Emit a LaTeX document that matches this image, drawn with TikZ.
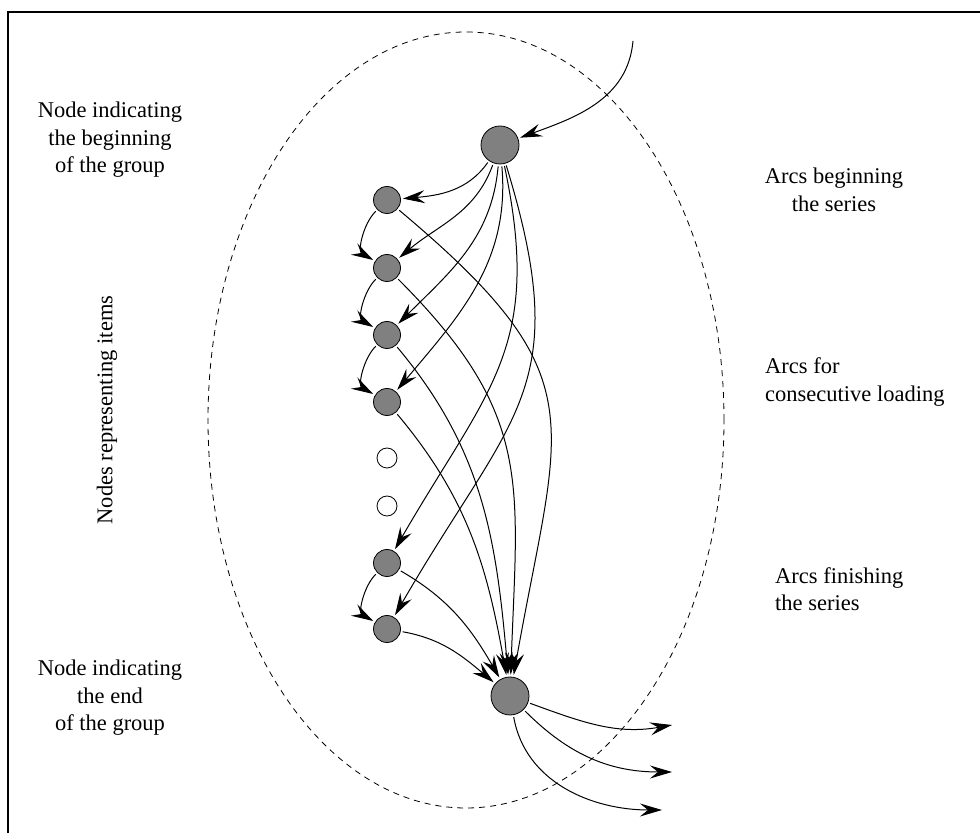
\documentclass[tikz,border=0pt]{standalone}
\usepackage{fontspec}
\setmainfont{Liberation Serif}
\usepackage{xcolor}
\usetikzlibrary{arrows.meta,positioning,calc,shapes.geometric}
\definecolor{Fill}{HTML}{808080}

\begin{document}
\begin{tikzpicture}[x=1pt,y=1pt,
big/.style={circle,draw,fill=Fill,minimum size=38pt,inner sep=0pt,line width=0.8pt},
item/.style={circle,draw,fill=Fill,minimum size=27pt,inner sep=0pt,line width=0.8pt},
hole/.style={circle,draw,fill=white,minimum size=20pt,inner sep=0pt,line width=0.8pt},
edge/.style={-{Stealth[length=22pt,width=13pt,inset=8pt]},line width=1pt,shorten >=2pt,shorten <=2pt},
lbl/.style={font=\fontsize{22.5}{27.5}\selectfont,align=center,inner sep=0pt}]
\useasboundingbox (0,0) rectangle (980,833);
\draw[line width=1.3pt] (8,0) -- (8,821) -- (980,821);
\draw[dash pattern=on 6pt off 5pt,line width=0.8pt] (466,413) ellipse [x radius=258,y radius=388];
% group nodes
\node[big] (S) at (500,688) {};
\node[item] (n1) at (387,633) {};
\node[item] (n2) at (387,565) {};
\node[item] (n3) at (387,498) {};
\node[item] (n4) at (387,431) {};
\node[hole] (h1) at (387,375) {};
\node[hole] (h2) at (387,327) {};
\node[item] (n5) at (387,270) {};
\node[item] (n6) at (387,204) {};
\node[big] (E) at (510,137) {};
\coordinate (src) at (633,792);
\coordinate (o1) at (672,108);
\coordinate (o2) at (672,61);
\coordinate (o3) at (662,23);
% labels
\node[lbl] (tbeg) at (110,693) {Node indicating\\the beginning\\of the group};
\node[lbl] (tend) at (110,135) {Node indicating\\the end\\of the group};
\node[lbl,rotate=90] (titems) at (107,423) {Nodes representing items};
\node[lbl] (tarcb) at (834,643) {Arcs beginning\\the series};
\node[lbl,align=left,anchor=west] (tarcc) at (765,451) {Arcs for\\consecutive loading};
\node[lbl,align=left,anchor=west] (tarcf) at (775,244) {Arcs finishing\\the series};
% arcs beginning the series
\draw[edge,shorten <=0pt] (src) to[out=-95,in=20] (S);
\draw[edge] (S) to[out=235,in=5] (n1);
\draw[edge] (S) to[out=250,in=40] (n2);
\draw[edge] (S) to[out=265,in=45] (n3);
\draw[edge] (S) to[out=275,in=50] (n4);
\draw[edge] (S) to[out=282,in=60,looseness=1.2] (n5);
\draw[edge] (S) to[out=287,in=60,looseness=1.3] (n6);
% consecutive loading
\draw[edge] (n1) to[out=225,in=150] (n2);
\draw[edge] (n2) to[out=225,in=150] (n3);
\draw[edge] (n3) to[out=225,in=150] (n4);
\draw[edge] (n5) to[out=225,in=150] (n6);
% arcs finishing the series
\draw[edge] (n1) to[out=-40,in=80,looseness=1.4] (E);
\draw[edge] (n2) to[out=-45,in=88,looseness=1.2] (E);
\draw[edge] (n3) to[out=-50,in=95] (E);
\draw[edge] (n4) to[out=-50,in=100] (E);
\draw[edge] (n5) to[out=-30,in=120] (E);
\draw[edge] (n6) to[out=-10,in=140] (E);
\draw[edge,shorten >=0pt] (E) to[out=-20,in=190] (o1);
\draw[edge,shorten >=0pt] (E) to[out=-45,in=180] (o2);
\draw[edge,shorten >=0pt] (E) to[out=-80,in=180] (o3);
\end{tikzpicture}
\end{document}
